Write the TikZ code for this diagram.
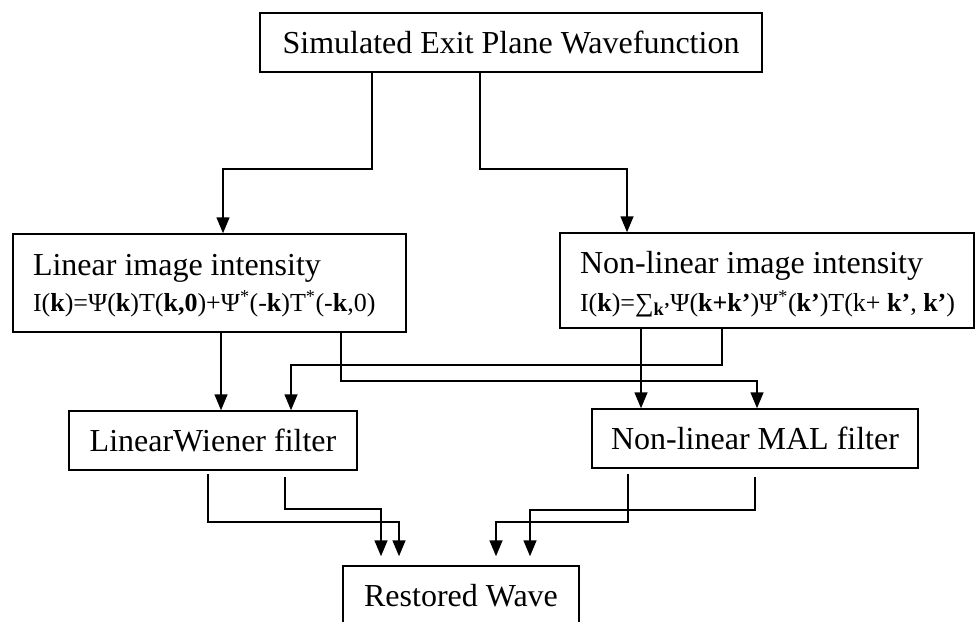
\documentclass[tikz,border=0pt]{standalone}
\usepackage{fontspec}
\setmainfont{Liberation Serif}
\usetikzlibrary{arrows.meta}
\begin{document}
\begin{tikzpicture}[x=1pt,y=-1pt,
  box/.style={draw, line width=1.5pt, inner sep=0pt, font=\fontsize{32}{36}\selectfont},
  arr/.style={line width=1.5pt, -{Triangle[length=16pt,width=13pt]}},
  arrgap/.style={arr, shorten >=9pt}]
\useasboundingbox (0,0) rectangle (976,621);
\newcommand{\frmfont}{\fontsize{26}{26}\selectfont}
\node[box, minimum width=502pt, minimum height=59pt] (top) at (511,42.5) {Simulated Exit Plane Wavefunction};
\node[box, minimum width=393pt, minimum height=98pt, align=flush left, text width=353pt] (lin) at (209.5,283)
  {\rule{0pt}{27pt}Linear image intensity\\
   {\frmfont\mbox{I(\textbf{k})=Ψ(\textbf{k})T(\textbf{k,0})+Ψ\textsuperscript{*}(-\textbf{k})T\textsuperscript{*}(-\textbf{k},0)}}};
\node[box, minimum width=414pt, minimum height=95pt, align=flush left, text width=374pt, font=\fontsize{32}{38}\selectfont] (nl) at (767,280.5)
  {\rule{0pt}{29pt}Non-linear image intensity\\
   {\frmfont\mbox{I(\textbf{k})=∑\textsubscript{\textbf{k’}}Ψ(\textbf{k+k’})Ψ\textsuperscript{*}(\textbf{k’})T(k+ \textbf{k’}, \textbf{k’})}}};
\node[box, minimum width=288pt, minimum height=59pt] (wie) at (213,440.5) {LinearWiener filter};
\node[box, minimum width=326pt, minimum height=59pt] (mal) at (755,438.5) {Non-linear MAL filter};
\node[box, minimum width=236pt, minimum height=59pt] (rw) at (461,595.5) {Restored Wave};
% top to second level
\draw[arr] (top.south -| 372,0) |- (223,169) -- (lin.north -| 223,0);
\draw[arr] (top.south -| 480,0) |- (627,169) -- (nl.north -| 627,0);
% second level to filters
\draw[arr] (lin.south -| 221,0) -- (wie.north -| 221,0);
\draw[arr] (lin.south -| 341,0) |- (757,381) -- (mal.north -| 757,0);
\draw[arr] (nl.south -| 641,0) -- (mal.north -| 641,0);
\draw[arr] (nl.south -| 722,0) |- (291,365) -- (wie.north -| 291,0);
% filters to restored wave
\draw[arrgap, shorten <=3pt] (wie.south -| 208,0) |- (399,522) -- (rw.north -| 399,0);
\draw[arrgap, shorten <=6pt] (wie.south -| 285,0) |- (381,509) -- (rw.north -| 381,0);
\draw[arrgap, shorten <=5pt] (mal.south -| 628,0) |- (496,522) -- (rw.north -| 496,0);
\draw[arrgap, shorten <=8pt] (mal.south -| 755,0) |- (530,510) -- (rw.north -| 530,0);
\end{tikzpicture}
\end{document}
